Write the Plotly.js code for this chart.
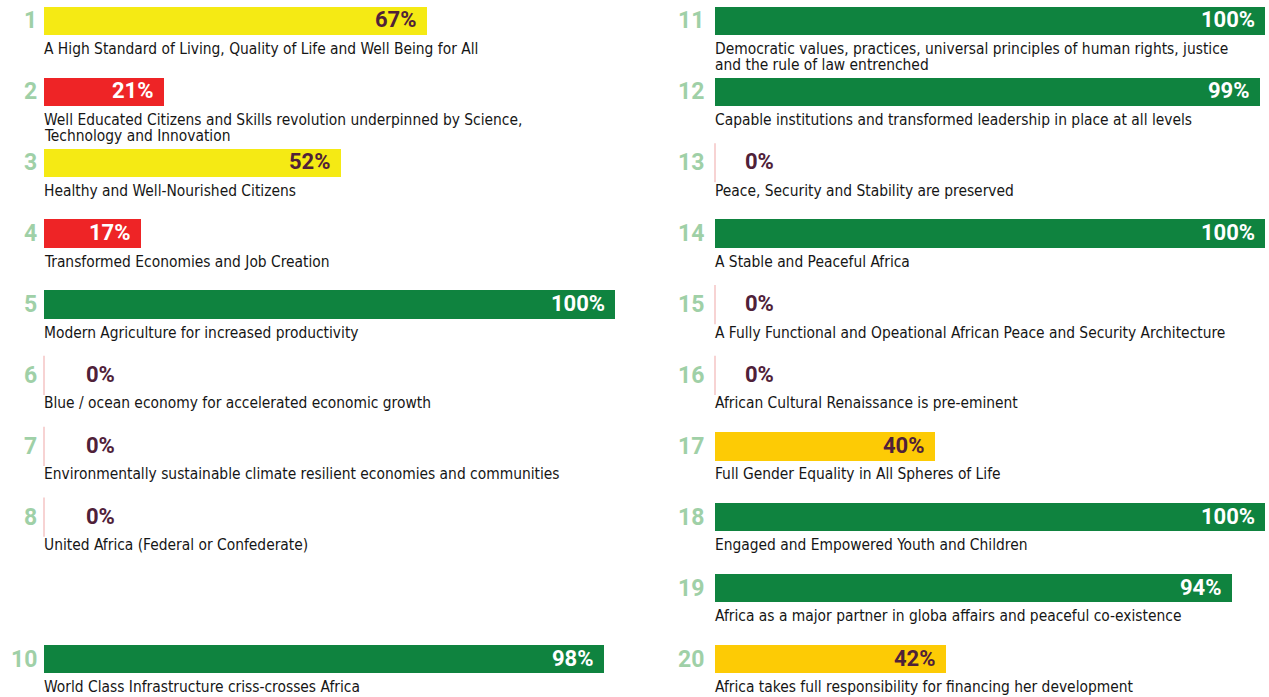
<!DOCTYPE html>
<html>
<head>
<meta charset="utf-8">
<script src="https://cdn.plot.ly/plotly-3.0.1.min.js"></script>
<style>
  html, body { margin: 0; padding: 0; background: #fff; }
  #chart { width: 1269px; height: 697px; }
</style>
</head>
<body>
<div id="chart"></div>
<script>
/* data */
const goals = [1, 2, 3, 4, 5, 6, 7, 8, 10, 11, 12, 13, 14, 15, 16, 17, 18, 19, 20];
const scores = [67, 21, 52, 17, 100, 0, 0, 0, 98, 100, 99, 0, 100, 0, 0, 40, 100, 94, 42];
const goal_titles = [
  "A High Standard of Living, Quality of Life and Well Being for All",
  "Well Educated Citizens and Skills revolution underpinned by Science,\nTechnology and Innovation",
  "Healthy and Well-Nourished Citizens",
  "Transformed Economies and Job Creation",
  "Modern Agriculture for increased productivity",
  "Blue / ocean economy for accelerated economic growth",
  "Environmentally sustainable climate resilient economies and communities",
  "United Africa (Federal or Confederate)",
  "World Class Infrastructure criss-crosses Africa",
  "Democratic values, practices, universal principles of human rights, justice\nand the rule of law entrenched",
  "Capable institutions and transformed leadership in place at all levels",
  "Peace, Security and Stability are preserved",
  "A Stable and Peaceful Africa",
  "A Fully Functional and Opeational African Peace and Security Architecture",
  "African Cultural Renaissance is pre-eminent",
  "Full Gender Equality in All Spheres of Life",
  "Engaged and Empowered Youth and Children",
  "Africa as a major partner in globa affairs and peaceful co-existence",
  "Africa takes full responsibility for financing her development"
];

/* styling helpers */
const GREEN = '#0f833f', YELLOW = '#f5ea14', AMBER = '#fdcb05', RED = '#ee2426';
const MAROON = '#4f2139', NUM_GREEN = '#9fd0a7', ZERO_LINE = '#f4c4c4';
const NARROW = '"Liberation Sans Narrow", "Arial Narrow", "DejaVu Sans Condensed", "Liberation Sans", sans-serif';

const bar_colour = v => v >= 90 ? GREEN : v >= 50 ? YELLOW : v >= 30 ? AMBER : RED;
const text_colour = v => (v >= 90 || v < 30) ? '#ffffff' : MAROON;
const row_of = g => (g - 1) % 10;
const column_of = g => g <= 10 ? 0 : 1;

const axis_names = [['x', 'y'], ['x2', 'y2']];
const outside_shift = [40, 28];

let data = [];
let annotations = [];

for (const col of [0, 1]) {
  const idx = goals.map((g, i) => i).filter(i => column_of(goals[i]) === col);
  const [xa, ya] = axis_names[col];
  const xs = idx.map(i => scores[i]);
  const ys = idx.map(i => row_of(goals[i]));

  data.push({
    type: 'bar',
    orientation: 'h',
    x: xs,
    y: ys,
    width: 0.4,
    marker: { color: xs.map(bar_colour), line: { width: 0 } },
    xaxis: xa,
    yaxis: ya,
    hoverinfo: 'skip',
    showlegend: false,
  });

  // the thin tick drawn for goals with nothing achieved
  const zero_idx = idx.filter(i => scores[i] === 0);
  data.push({
    type: 'scatter',
    mode: 'markers',
    x: zero_idx.map(i => scores[i]),
    y: zero_idx.map(i => row_of(goals[i])),
    marker: { symbol: 'line-ns', size: 28, line: { width: 1.5, color: ZERO_LINE } },
    xaxis: xa,
    yaxis: ya,
    hoverinfo: 'skip',
    showlegend: false,
    cliponaxis: false,
  });

  for (const i of idx) {
    const v = scores[i];
    const r = row_of(goals[i]);

    // goal number
    annotations.push({
      xref: xa, yref: ya, x: 0, y: r,
      xanchor: 'right', yanchor: 'middle', xshift: col === 0 ? -5 : -9,
      text: `${goals[i]}`, showarrow: false,
      font: { family: 'Roboto', size: 23, weight: 'bold', color: NUM_GREEN },
    });

    // percentage
    const inside = v > 0;
    annotations.push({
      xref: xa, yref: ya, x: v, y: r,
      xanchor: inside ? 'right' : 'left', yanchor: 'middle',
      xshift: inside ? -8 : outside_shift[col], yshift: 1,
      text: `${v}%`, showarrow: false,
      font: { family: 'Roboto', size: 22, weight: 'bold', color: inside ? text_colour(v) : MAROON },
    });

    // description, one annotation per line
    goal_titles[i].split('\n').forEach((line, k) => {
      annotations.push({
        xref: xa, yref: ya, x: 0, y: r,
        xanchor: 'left', yanchor: 'top', xshift: -1, yshift: -18 - 16 * k,
        borderpad: 0,
        text: line, showarrow: false,
        font: { family: NARROW, size: 15.4, stretch: 'condensed', color: '#161616' },
      });
    });
  }
}

const hidden_x = domain => ({ domain, range: [0, 100], visible: false, fixedrange: true });
const hidden_y = () => ({ range: [9.536, -0.296], visible: false, fixedrange: true, domain: [0, 1] });

const layout = {
  width: 1269,
  height: 697,
  margin: { l: 0, r: 0, t: 0, b: 0 },
  paper_bgcolor: '#ffffff',
  plot_bgcolor: '#ffffff',
  bargap: 0,
  xaxis: hidden_x([44 / 1269, 615 / 1269]),
  xaxis2: hidden_x([715 / 1269, 1265 / 1269]),
  yaxis: hidden_y(),
  yaxis2: Object.assign(hidden_y(), { anchor: 'x2' }),
  annotations,
  showlegend: false,
};

Plotly.newPlot('chart', data, layout, { displayModeBar: false, staticPlot: true });
</script>
</body>
</html>
